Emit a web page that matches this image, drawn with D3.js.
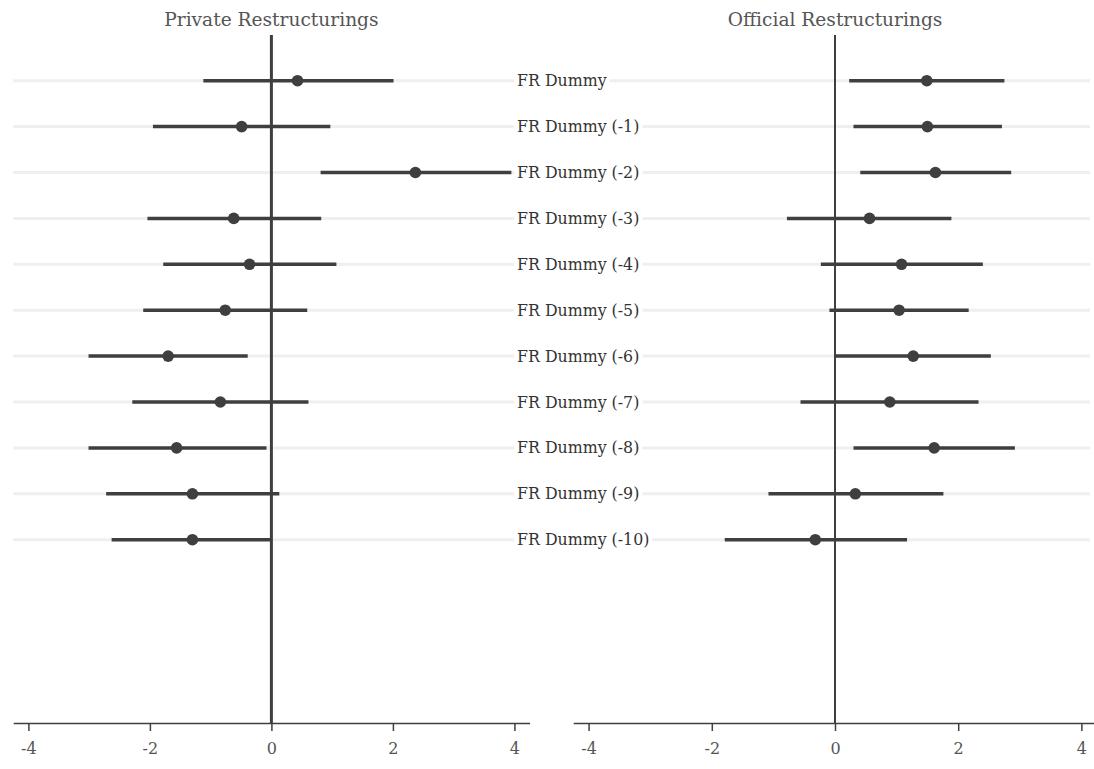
<!DOCTYPE html>
<html>
<head>
<meta charset="utf-8">
<script src="https://cdn.jsdelivr.net/npm/d3@7"></script>
<style>
  body { margin: 0; background: #fff; }
  svg { display: block; font-family: "DejaVu Serif", "Liberation Serif", serif; }
</style>
</head>
<body>
<svg id="chart"></svg>
<script>
const terms = ["FR Dummy", "FR Dummy (-1)", "FR Dummy (-2)", "FR Dummy (-3)", "FR Dummy (-4)",
  "FR Dummy (-5)", "FR Dummy (-6)", "FR Dummy (-7)", "FR Dummy (-8)", "FR Dummy (-9)", "FR Dummy (-10)"];

// private restructurings: estimate, lower, upper
const privEst = [0.43, -0.49, 2.37, -0.62, -0.36, -0.76, -1.70, -0.84, -1.56, -1.30, -1.30];
const privLo  = [-1.12, -1.95, 0.81, -2.04, -1.78, -2.11, -3.01, -2.29, -3.01, -2.72, -2.63];
const privHi  = [2.01, 0.97, 3.95, 0.82, 1.07, 0.59, -0.39, 0.61, -0.08, 0.13, 0.0];

// official restructurings
const offEst = [1.49, 1.50, 1.63, 0.56, 1.08, 1.04, 1.27, 0.89, 1.61, 0.33, -0.32];
const offLo  = [0.23, 0.30, 0.41, -0.78, -0.23, -0.09, 0.01, -0.56, 0.30, -1.08, -1.79];
const offHi  = [2.75, 2.71, 2.86, 1.89, 2.40, 2.17, 2.53, 2.33, 2.92, 1.76, 1.17];

const xTicks = [-4, -2, 0, 2, 4];
const panelTitles = ["Private Restructurings", "Official Restructurings"];

const width = 1094;
const height = 769;
const axisY = 723;
const zeroTop = 35;
const ink = "#3f3f3f";

const svg = d3.select("#chart")
    .attr("width", width)
    .attr("height", height);

let yScale = d3.scalePoint()
    .domain(terms)
    .range([80.7, 539.7]);

let xLeft = d3.scaleLinear()
    .domain([-4.25, 4.25])
    .range([13.2, 529.6]);

let xRight = d3.scaleLinear()
    .domain([-4.25, 4.25])
    .range([573.2, 1096.8]);

const panels = [
  {x: xLeft, est: privEst, lo: privLo, hi: privHi, title: panelTitles[0], zeroW: 3},
  {x: xRight, est: offEst, lo: offLo, hi: offHi, title: panelTitles[1], zeroW: 2}
];

// light background row lines across the whole figure
svg.append("g")
  .selectAll("line")
  .data(terms)
  .enter()
  .append("line")
    .attr("x1", xLeft.range()[0])
    .attr("x2", 1090)
    .attr("y1", d => yScale(d))
    .attr("y2", d => yScale(d))
    .attr("stroke", "#efefef")
    .attr("stroke-width", 3);

panels.forEach(p => {
  let g = svg.append("g");

  let xAxis = d3.axisBottom(p.x)
      .tickValues(xTicks)
      .tickFormat(d => String(d))
      .tickSize(8)
      .tickSizeOuter(0)
      .tickPadding(12);

  let ax = g.append("g")
      .attr("transform", `translate(0, ${axisY})`)
      .call(xAxis);
  ax.select(".domain").attr("stroke", ink).attr("stroke-width", 1.6);
  ax.selectAll(".tick line").attr("stroke", ink).attr("stroke-width", 1.5);
  ax.selectAll(".tick text")
      .attr("fill", "#555")
      .style("font-size", "16px")
      .style("font-family", "DejaVu Serif, serif");

  // zero reference line
  g.append("line")
      .attr("x1", p.x(0))
      .attr("x2", p.x(0))
      .attr("y1", zeroTop)
      .attr("y2", axisY)
      .attr("stroke", ink)
      .attr("stroke-width", p.zeroW);

  // confidence intervals
  g.selectAll("line.ci")
    .data(terms)
    .enter()
    .append("line")
      .attr("class", "ci")
      .attr("x1", (d, i) => p.x(p.lo[i]))
      .attr("x2", (d, i) => p.x(p.hi[i]))
      .attr("y1", d => yScale(d))
      .attr("y2", d => yScale(d))
      .attr("stroke", ink)
      .attr("stroke-width", 3.5);

  g.append("text")
      .attr("x", p.x(0))
      .attr("y", 26)
      .attr("text-anchor", "middle")
      .attr("fill", "#555")
      .style("font-size", "18.6px")
      .text(p.title);
});

// row labels between the panels, with a white box over the row line
const labelX = 517;
let labels = svg.append("g")
  .selectAll("g")
  .data(terms)
  .enter()
  .append("g")
    .attr("transform", d => `translate(${labelX}, ${yScale(d)})`);

labels.append("text")
    .attr("dy", "0.35em")
    .attr("fill", "#333")
    .style("font-size", "15.8px")
    .text(d => d);

labels.each(function() {
  let t = d3.select(this).select("text");
  let w = t.node().getComputedTextLength();
  d3.select(this).insert("rect", "text")
      .attr("x", -3)
      .attr("y", -4)
      .attr("width", w + 6)
      .attr("height", 8)
      .attr("fill", "#fff");
});

// point estimates on top
panels.forEach(p => {
  svg.append("g")
    .selectAll("circle")
    .data(terms)
    .enter()
    .append("circle")
      .attr("cx", (d, i) => p.x(p.est[i]))
      .attr("cy", d => yScale(d))
      .attr("r", 5.8)
      .attr("fill", ink);
});
</script>
</body>
</html>
